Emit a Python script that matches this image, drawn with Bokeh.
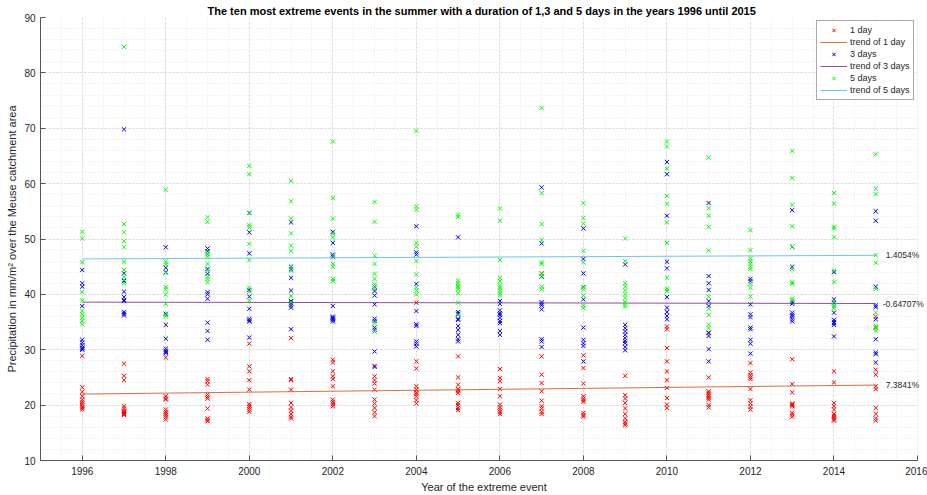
from bokeh.plotting import figure
from bokeh.models import FixedTicker, Legend, LegendItem, Range1d, Label, BoxAnnotation
from bokeh.embed import file_html
from bokeh.resources import INLINE

years = list(range(1996, 2016))

# ten most extreme 1-day events per year (mm/m2)
one_day = [
    [28.9, 23.2, 22.4, 21.6, 21.0, 20.6, 20.2, 19.8, 19.5, 19.2],
    [27.5, 25.3, 24.5, 19.8, 19.4, 19.0, 18.8, 18.6, 18.4, 18.2],
    [28.6, 21.6, 21.2, 21.0, 19.2, 18.8, 18.5, 18.2, 17.8, 17.4],
    [24.7, 24.3, 23.7, 21.9, 21.5, 21.2, 19.4, 17.6, 17.3, 17.1],
    [31.1, 27.0, 26.1, 24.5, 22.8, 20.2, 19.9, 19.6, 19.2, 18.8],
    [32.1, 24.7, 24.5, 22.8, 20.4, 19.6, 19.0, 18.4, 17.9, 17.6],
    [28.2, 27.7, 26.1, 25.2, 24.7, 23.4, 21.0, 20.6, 20.2, 19.8],
    [27.1, 25.2, 24.5, 23.9, 22.8, 21.0, 20.3, 19.5, 18.7, 18.0],
    [38.5, 27.9, 26.6, 23.4, 22.8, 22.3, 22.0, 21.6, 20.9, 20.3],
    [28.8, 25.0, 23.7, 22.9, 22.6, 22.2, 20.4, 20.0, 19.5, 19.1],
    [26.5, 24.9, 24.3, 22.9, 21.6, 20.1, 19.6, 19.2, 18.8, 18.4],
    [43.8, 28.8, 25.5, 24.0, 22.5, 20.8, 19.8, 19.4, 18.8, 18.4],
    [29.0, 26.7, 23.9, 21.6, 21.2, 20.9, 20.6, 18.6, 18.2, 17.9],
    [25.3, 21.8, 21.2, 20.4, 19.4, 18.4, 17.6, 17.0, 16.7, 16.4],
    [34.2, 33.7, 30.3, 27.9, 26.1, 24.5, 23.1, 21.3, 20.1, 19.5],
    [33.0, 25.0, 22.5, 22.2, 21.9, 21.6, 21.3, 21.0, 20.0, 19.6],
    [27.6, 25.9, 25.4, 25.0, 24.7, 22.9, 20.9, 20.3, 19.7, 19.2],
    [28.3, 23.8, 22.3, 20.3, 20.1, 20.0, 19.8, 18.6, 18.3, 17.9],
    [26.1, 24.1, 20.4, 19.8, 19.2, 18.4, 18.0, 17.7, 17.4, 17.2],
    [36.0, 34.0, 26.4, 25.5, 23.4, 22.9, 19.5, 18.4, 17.6, 17.2],
]

# ten most extreme 3-day events per year
three_days = [
    [44.4, 42.0, 41.4, 37.9, 31.8, 31.3, 30.8, 30.4, 30.2, 30.0],
    [69.8, 43.8, 42.4, 40.5, 39.5, 39.0, 38.8, 36.8, 36.5, 36.2],
    [48.5, 44.8, 44.0, 36.5, 34.5, 32.0, 30.2, 29.8, 29.6, 29.4],
    [48.3, 47.8, 44.6, 43.7, 40.4, 40.0, 39.2, 34.9, 33.4, 31.8],
    [54.7, 51.2, 47.4, 40.8, 39.6, 37.4, 35.6, 35.3, 35.1, 32.2],
    [53.0, 45.0, 44.5, 43.0, 40.7, 38.8, 38.4, 38.0, 37.6, 33.7],
    [51.3, 49.3, 47.2, 46.8, 37.9, 36.0, 35.8, 35.6, 35.4, 35.1],
    [41.4, 40.6, 39.8, 38.2, 35.6, 35.2, 34.0, 33.6, 29.7, 26.9],
    [52.3, 47.6, 47.2, 41.9, 37.0, 34.6, 34.3, 31.5, 31.1, 30.6],
    [50.3, 36.8, 36.5, 35.6, 35.4, 34.3, 33.6, 32.7, 31.9, 31.5],
    [38.8, 38.3, 37.1, 36.6, 36.3, 35.8, 35.2, 34.8, 33.4, 32.7],
    [59.3, 49.2, 43.2, 38.6, 38.3, 38.0, 37.3, 31.9, 31.5, 30.5],
    [51.9, 46.4, 43.8, 41.3, 39.1, 34.0, 31.8, 31.2, 30.7, 27.9],
    [45.4, 34.5, 33.9, 33.3, 32.7, 32.1, 31.6, 31.2, 30.5, 29.9],
    [63.9, 61.7, 54.2, 45.9, 44.7, 39.5, 37.6, 36.8, 36.1, 35.5],
    [56.5, 43.3, 42.0, 40.8, 38.8, 37.9, 33.1, 32.5, 30.1, 27.9],
    [42.8, 42.4, 38.2, 36.4, 35.9, 34.0, 33.7, 31.8, 31.1, 29.3],
    [55.2, 48.6, 45.0, 38.6, 38.3, 36.7, 36.3, 36.0, 35.5, 35.1],
    [44.0, 39.1, 38.6, 38.4, 36.7, 35.4, 35.0, 34.8, 34.5, 32.4],
    [55.0, 53.3, 41.4, 38.0, 37.7, 35.5, 31.9, 29.5, 29.2, 27.7],
]

# ten most extreme 5-day events per year
five_days = [
    [51.3, 50.1, 45.8, 40.4, 38.9, 37.0, 36.4, 35.8, 35.2, 34.6],
    [84.7, 52.7, 51.2, 49.6, 48.5, 45.9, 44.4, 43.2, 42.6, 42.0],
    [58.9, 45.9, 45.4, 43.9, 41.3, 40.9, 40.0, 38.3, 36.3, 36.0],
    [53.9, 53.1, 47.4, 47.2, 46.8, 45.5, 44.3, 43.2, 42.8, 42.2],
    [63.2, 61.7, 54.7, 52.5, 52.1, 49.1, 46.2, 41.2, 40.5, 38.9],
    [60.5, 56.8, 53.7, 51.0, 48.8, 47.8, 45.0, 44.3, 39.7, 38.6],
    [67.6, 57.4, 53.7, 51.0, 50.3, 47.0, 45.5, 45.0, 42.8, 42.4],
    [56.7, 53.1, 47.0, 45.5, 43.7, 42.8, 41.8, 41.0, 34.8, 33.3],
    [69.5, 55.9, 55.3, 49.3, 48.6, 46.0, 43.6, 41.3, 40.7, 40.0],
    [54.4, 54.0, 42.5, 42.0, 41.6, 41.3, 40.9, 40.2, 38.5, 36.3],
    [55.5, 53.3, 46.2, 43.0, 42.4, 41.6, 41.2, 40.7, 40.2, 39.8],
    [73.7, 58.3, 52.7, 49.8, 45.8, 45.5, 43.7, 43.3, 41.4, 40.9],
    [56.5, 53.8, 52.8, 47.9, 45.8, 41.3, 40.9, 39.8, 38.0, 37.5],
    [50.1, 46.0, 42.0, 41.4, 40.7, 40.0, 39.4, 38.6, 38.2, 37.8],
    [67.6, 66.7, 62.7, 57.8, 56.4, 53.0, 49.3, 43.0, 41.0, 40.6],
    [64.7, 55.6, 54.2, 52.2, 47.9, 39.6, 37.4, 36.3, 34.5, 33.9],
    [51.6, 48.0, 46.5, 46.0, 45.5, 45.0, 44.6, 41.9, 41.2, 39.6],
    [65.9, 61.0, 56.2, 52.3, 48.6, 44.6, 42.2, 41.9, 39.2, 38.9],
    [58.3, 56.4, 52.2, 51.9, 50.3, 44.3, 42.2, 38.6, 37.9, 37.5],
    [65.3, 59.1, 58.1, 47.1, 45.7, 41.0, 36.7, 34.3, 33.9, 33.4],
]

series_names = ["1 day", "3 days", "5 days"]
trend_names = ["trend of 1 day", "trend of 3 days", "trend of 5 days"]
trend_start = [22.0, 38.6, 46.4]               # trend value in 1996
trend_change_pct = [7.3841, -0.64707, 1.4054]  # change 1996 -> 2015 in %

x_ticks = list(range(1996, 2017, 2))
y_ticks = list(range(10, 91, 10))

marker_colors = ["#FF0000", "#0000FF", "#00FF00"]
trend_colors = ["#D95319", "#7E2F8E", "#4DBEEE"]

FONT = "Liberation Sans"
TXT = "#262626"

# axes run 1995..2016; the frame is widened a little to the right so that the
# percentage labels next to the trend lines are not clipped
X0, X1 = 1995, 2016
x_end = X0 + (X1 - X0) * 887 / 877

p = figure(width=927, height=495, output_backend="svg", toolbar_location=None,
           x_range=Range1d(X0, x_end), y_range=Range1d(10, 90),
           min_border_left=40, min_border_right=0, min_border_top=17,
           min_border_bottom=32)
p.outline_line_color = None
p.background_fill_color = "white"

p.title.text = ("The ten most extreme events in the summer with a duration of 1,3 "
                "and 5 days in the years 1996 until 2015")
p.title.align = "left"
p.title.offset = 167
p.title.text_font = FONT
p.title.text_font_size = "11px"
p.title.text_font_style = "bold"
p.title.text_color = "#000000"
p.title.standoff = 2

p.xaxis.ticker = FixedTicker(ticks=x_ticks,
                             minor_ticks=[y / 2 for y in range(X0 * 2, X1 * 2 + 1)])
p.yaxis.ticker = FixedTicker(ticks=y_ticks, minor_ticks=list(range(10, 91, 2)))
p.xaxis.bounds = (X0, X1)

for ax in (p.xaxis[0], p.yaxis[0]):
    ax.major_tick_in = 5
    ax.major_tick_out = 0
    ax.minor_tick_in = 0
    ax.minor_tick_out = 0
    ax.axis_line_color = "#555555"
    ax.major_tick_line_color = "#555555"
    ax.major_label_text_font = FONT
    ax.major_label_text_font_size = "10px"
    ax.major_label_text_color = TXT
    ax.axis_label_text_font = FONT
    ax.axis_label_text_font_style = "normal"
    ax.axis_label_text_color = TXT
    ax.axis_label_text_font_size = "11px"

p.xaxis.major_label_standoff = 6
p.xaxis.axis_label = "Year of the extreme event"
p.xaxis.axis_label_standoff = 3
p.yaxis.major_label_standoff = 5
p.yaxis.axis_label = "Precipitation in mm/m\u00b2 over the Meuse catchment area"
p.yaxis.axis_label_standoff = 3

for g in (p.xgrid[0], p.ygrid[0]):
    g.grid_line_color = "#d8d8d8"
    g.grid_line_dash = "2 2"
    g.minor_grid_line_color = "#e6e6e6"
    g.minor_grid_line_dash = "1 2"

# hide the grid to the right of the axis end
p.add_layout(BoxAnnotation(left=X1, fill_color="white", fill_alpha=1,
                           line_color=None, level="underlay"))

all_series = [one_day, three_days, five_days]
items = []
for i, data in enumerate(all_series):
    xs = [yr for yr, row in zip(years, data) for _ in row]
    ys = [v for row in data for v in row]
    r_pts = p.scatter(xs, ys, marker="x", size=6, line_color=marker_colors[i],
                      line_width=1)
    y0 = trend_start[i]
    y1 = y0 * (1 + trend_change_pct[i] / 100.0)
    r_tr = p.line([years[0], years[-1]], [y0, y1], line_color=trend_colors[i],
                  line_width=1, line_alpha=0.85)
    items.append(LegendItem(label=series_names[i], renderers=[r_pts]))
    items.append(LegendItem(label=trend_names[i], renderers=[r_tr]))
    p.add_layout(Label(x=years[-1], y=y1, x_offset=10 if trend_change_pct[i] >= 0 else 7,
                       text=f"{trend_change_pct[i]}%",
                       text_font=FONT, text_font_size="8.5px", text_color=TXT,
                       text_baseline="middle", text_align="left"))

legend = Legend(items=items, location=(776, 360))
legend.margin = 0
legend.padding = 3
legend.spacing = 0
legend.glyph_width = 27
legend.glyph_height = 12
legend.label_height = 12
legend.label_standoff = 3
legend.label_text_font = FONT
legend.label_text_font_size = "9px"
legend.label_text_color = TXT
legend.border_line_color = "#555555"
legend.background_fill_alpha = 1
p.add_layout(legend)

open("out.html", "w").write(file_html(p, INLINE))
